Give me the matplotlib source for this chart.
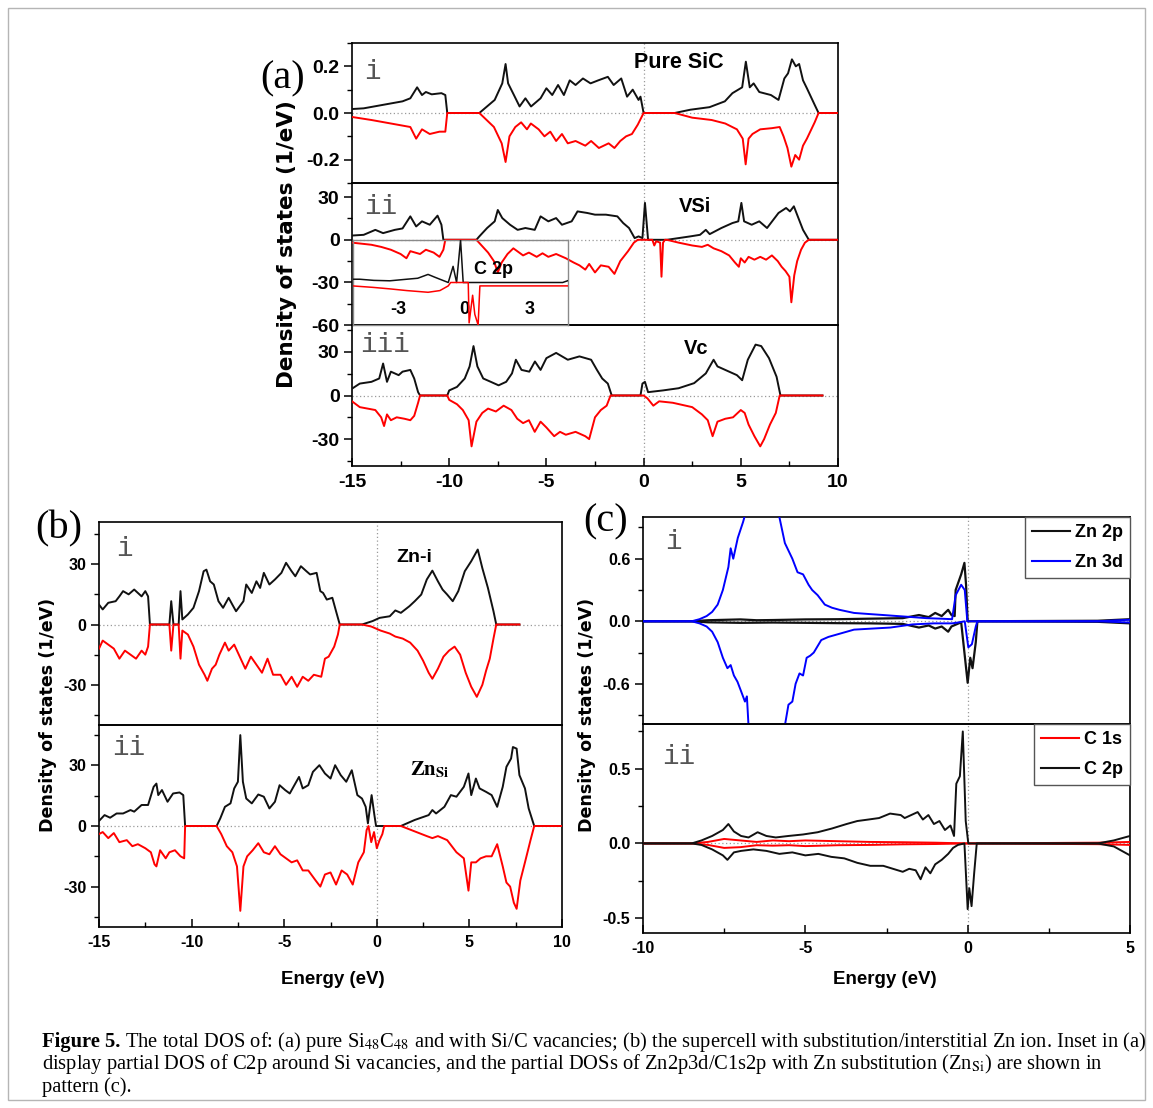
import matplotlib
matplotlib.use('Agg')
import matplotlib.pyplot as plt
from matplotlib.patches import Rectangle
from matplotlib.lines import Line2D

plt.rcParams['font.family'] = ['Liberation Sans', 'DejaVu Sans']
plt.rcParams['mathtext.fontset'] = 'stix'
plt.rcParams['axes.unicode_minus'] = False

WIDE = ['DejaVu Sans']
SERIF = ['Liberation Serif', 'DejaVu Serif']

# ---------------- data (energy eV, DOS) ----------------
# (a) i  pure SiC
a1_up = [(-15, 0.017), (-14.4, 0.02), (-13.4, 0.035), (-12.4, 0.05), (-12.0, 0.063), (-11.65, 0.11),
         (-11.4, 0.077), (-11.2, 0.09), (-10.9, 0.08), (-10.4, 0.085), (-10.2, 0.077), (-10.1, 0.0),
         (-8.45, 0.0), (-7.66, 0.056), (-7.27, 0.127), (-7.1, 0.21), (-6.97, 0.127), (-6.67, 0.077),
         (-6.38, 0.028), (-6.08, 0.063), (-5.79, 0.028), (-5.3, 0.063), (-5.0, 0.106), (-4.7, 0.077),
         (-4.4, 0.12), (-4.1, 0.077), (-3.8, 0.14), (-3.5, 0.12), (-3.12, 0.148), (-2.73, 0.127),
         (-2.33, 0.14), (-1.84, 0.155), (-1.54, 0.12), (-1.15, 0.148), (-0.85, 0.07), (-0.56, 0.1),
         (-0.26, 0.056), (-0.16, 0.07), (0.0, 0.0), (1.6, 0.0), (2.4, 0.014), (3.39, 0.025),
         (4.18, 0.05), (4.57, 0.085), (5.07, 0.11), (5.26, 0.22), (5.46, 0.11), (5.66, 0.127),
         (5.95, 0.09), (6.55, 0.077), (6.94, 0.056), (7.24, 0.148), (7.43, 0.17), (7.63, 0.23),
         (7.83, 0.2), (8.0, 0.21), (8.2, 0.14), (8.4, 0.106), (8.8, 0.035), (9.0, 0.0), (10.0, 0.0)]
a1_dn = [(-15, -0.017), (-14, -0.03), (-13, -0.045), (-12, -0.06), (-11.7, -0.11), (-11.4, -0.07),
         (-11, -0.09), (-10.5, -0.08), (-10.2, -0.08), (-10.1, 0.0), (-8.45, 0.0), (-7.7, -0.06),
         (-7.3, -0.13), (-7.1, -0.21), (-6.9, -0.1), (-6.6, -0.06), (-6.3, -0.04), (-6.0, -0.07),
         (-5.8, -0.045), (-5.4, -0.07), (-5.1, -0.1), (-4.8, -0.08), (-4.5, -0.12), (-4.2, -0.09),
         (-3.9, -0.13), (-3.5, -0.12), (-3.0, -0.14), (-2.7, -0.12), (-2.3, -0.15), (-1.8, -0.13),
         (-1.5, -0.15), (-1.2, -0.12), (-0.9, -0.1), (-0.6, -0.09), (-0.3, -0.05), (0.0, 0.0),
         (1.6, 0.0), (2.5, -0.02), (3.5, -0.03), (4.2, -0.045), (4.8, -0.07), (5.1, -0.11),
         (5.25, -0.22), (5.4, -0.11), (5.6, -0.09), (6.0, -0.07), (6.6, -0.065), (7.0, -0.06),
         (7.2, -0.1), (7.4, -0.15), (7.6, -0.23), (7.8, -0.18), (8.0, -0.2), (8.2, -0.14),
         (8.4, -0.11), (8.8, -0.04), (9.0, 0.0), (10.0, 0.0)]

# (a) ii  V_Si
a2_up = [(-15, 3), (-14.4, 3.5), (-13.8, 7), (-13.4, 4.7), (-12.8, 7), (-12.4, 8), (-12.0, 16.5),
         (-11.7, 9.4), (-11.4, 13), (-11.0, 10.6), (-10.6, 17), (-10.4, 10.6), (-10.3, 0), (-8.6, 0),
         (-8.45, 2.4), (-8.05, 8.3), (-7.66, 13), (-7.5, 21), (-7.27, 15.3), (-6.87, 10.6), (-6.48, 7),
         (-6.08, 8.3), (-5.6, 7), (-5.3, 16.5), (-4.9, 13), (-4.5, 15.3), (-4.2, 10.6), (-3.7, 13),
         (-3.4, 20), (-2.9, 18.9), (-2.5, 17.7), (-1.94, 17.7), (-1.35, 16.5), (-1.05, 11.8),
         (-0.75, 8.3), (-0.46, 1.2), (-0.26, 2.4), (-0.06, 1.2), (0.07, 26), (0.23, 0), (1.2, 0),
         (1.8, 1.2), (2.4, 2.4), (2.9, 3.5), (3.2, 7), (3.4, 4), (4.0, 8.3), (4.57, 11.8), (4.87, 13),
         (5.03, 26), (5.17, 13), (5.56, 10.6), (5.95, 13), (6.35, 8.3), (6.94, 18.9), (7.33, 22.4),
         (7.53, 20), (7.73, 23.6), (7.93, 16.5), (8.2, 7), (8.5, 0), (10, 0)]
a2_dn = [(-15, -2), (-14, -3.5), (-13.5, -5), (-13, -7), (-12.5, -10), (-12.2, -13), (-12, -8),
         (-11.5, -10), (-11.2, -7), (-10.8, -9), (-10.5, -12), (-10.3, -7), (-10.2, 0), (-8.6, 0),
         (-8.4, -3), (-8.0, -9), (-7.7, -15), (-7.5, -23), (-7.3, -16), (-7.0, -10), (-6.7, -6),
         (-6.5, -8), (-6.2, -11), (-5.9, -9), (-5.5, -12), (-5.2, -9.5), (-4.9, -12), (-4.5, -10),
         (-4.0, -13), (-3.6, -16), (-3.3, -18), (-3.0, -21), (-2.8, -17), (-2.5, -23), (-2.2, -18),
         (-1.8, -19), (-1.5, -24), (-1.2, -15), (-0.8, -8), (-0.5, -2), (-0.3, 0), (0.45, 0),
         (0.55, -4), (0.65, -1), (0.85, -2), (0.92, -26), (1.0, -2), (1.1, 0), (1.2, 0), (1.8, -2),
         (2.5, -4), (3.0, -5), (3.3, -3.5), (3.6, -6), (4.0, -8), (4.4, -11), (4.7, -16), (4.9, -19),
         (5.0, -13), (5.2, -16), (5.4, -12), (5.7, -14), (6.0, -12), (6.3, -14), (6.6, -11),
         (6.9, -15), (7.1, -19), (7.3, -22), (7.5, -26), (7.6, -44), (7.75, -25), (7.9, -15),
         (8.1, -7), (8.3, -2), (8.5, 0), (10, 0)]
# inset: C 2p around V_Si (arbitrary units)
ins_up = [(-5.07, 0.077), (-4.74, 0.077), (-4.1, 0.05), (-3.37, 0.04), (-2.6, 0.077), (-2.1, 0.1),
          (-1.63, 0.19), (-1.3, 0.12), (-1.09, 0.077), (-0.71, 0.0), (-0.49, 0.38), (-0.33, 0.0),
          (-0.15, 1.0), (-0.03, 0.0), (4.5, 0.0), (4.72, 0.04)]
ins_dn = [(-5.07, -0.08), (-4.13, -0.115), (-3.37, -0.15), (-2.6, -0.19), (-1.63, -0.23),
          (-1.09, -0.19), (-0.71, -0.08), (-0.6, 0.0), (0.2, 0.0), (0.24, -0.95), (0.4, -0.3),
          (0.5, -0.75), (0.65, -1.0), (0.73, -0.08), (4.72, -0.08)]

# (a) iii  V_C
a3_up = [(-15, 4.7), (-14.6, 8.2), (-14, 9.4), (-13.6, 11.7), (-13.4, 22), (-13.2, 9.4), (-13.0, 16.4),
         (-12.6, 14), (-12.4, 16.4), (-12.0, 17.6), (-11.8, 11.7), (-11.6, 2.3), (-11.5, 0), (-10.1, 0),
         (-10.0, 3.5), (-9.6, 5.9), (-9.2, 11.7), (-8.95, 20), (-8.75, 34), (-8.55, 20), (-8.25, 11.7),
         (-7.86, 9.4), (-7.46, 7), (-7.07, 9.4), (-6.77, 15.2), (-6.57, 24.6), (-6.28, 17.6),
         (-5.88, 16.4), (-5.59, 23.4), (-5.3, 17.6), (-5.0, 25.7), (-4.5, 29.3), (-3.9, 24.6),
         (-3.3, 26.9), (-2.7, 24.6), (-2.4, 17.6), (-2.13, 11.7), (-1.84, 8.2), (-1.64, 0),
         (-0.16, 0), (-0.06, 8.2), (0.07, 9.4), (0.23, 2.3), (1.0, 3.5), (1.8, 5.0), (2.6, 8.5),
         (3.2, 15.2), (3.6, 24.6), (3.8, 20), (4.4, 16.4), (4.8, 14), (5.07, 10.5), (5.36, 24.6),
         (5.76, 35), (6.05, 34), (6.45, 25.7), (6.84, 12.9), (7.04, 0), (9.2, 0)]
a3_dn = [(-15, -4), (-14.6, -8), (-14.2, -9), (-13.8, -10), (-13.5, -15), (-13.35, -21), (-13.2, -13),
         (-13.0, -17), (-12.7, -15), (-12.3, -16), (-12.0, -17), (-11.8, -14), (-11.6, -5), (-11.5, 0),
         (-10.1, 0), (-10.0, -3), (-9.6, -6), (-9.3, -10), (-9.0, -17), (-8.85, -35), (-8.6, -18),
         (-8.3, -12), (-8.0, -9), (-7.6, -11), (-7.2, -7), (-6.8, -10), (-6.5, -16), (-6.2, -19),
         (-5.9, -17), (-5.6, -25), (-5.3, -18), (-5.0, -22), (-4.6, -28), (-4.3, -25), (-4.0, -27),
         (-3.5, -25), (-3.0, -28), (-2.8, -30), (-2.5, -15), (-2.2, -10), (-1.9, -7), (-1.7, 0),
         (0.0, 0), (0.2, -2), (0.5, -7), (0.8, -4), (1.5, -5), (2.5, -8), (3.0, -13), (3.3, -17),
         (3.55, -28), (3.8, -18), (4.2, -16), (4.6, -15), (5.0, -10), (5.2, -12), (5.4, -20),
         (5.7, -28), (6.0, -35), (6.2, -30), (6.5, -20), (6.8, -12), (7.0, 0), (9.2, 0)]

# (b) i  Zn-i
b1_up = [(-15, 9.9), (-14.8, 7.5), (-14.5, 10.8), (-14.1, 11.6), (-13.9, 14), (-13.7, 16.6), (-13.4, 15),
         (-13.1, 17.4), (-12.7, 14), (-12.5, 16.6), (-12.35, 14), (-12.25, 0), (-11.2, 0), (-11.1, 11.6),
         (-10.98, 0), (-10.7, 0), (-10.6, 16.6), (-10.5, 2.5), (-10.2, 5), (-9.9, 8.3), (-9.6, 16.6),
         (-9.35, 26.5), (-9.2, 27.3), (-9.0, 21.5), (-8.8, 19.9), (-8.55, 11.6), (-8.3, 8.3),
         (-8.0, 13.3), (-7.8, 9.9), (-7.6, 6.6), (-7.2, 11.6), (-7.05, 19.9), (-6.75, 15.7),
         (-6.5, 21.5), (-6.3, 18.2), (-6.1, 25.7), (-5.8, 19.9), (-5.5, 22.4), (-5.15, 25.7),
         (-4.9, 30.7), (-4.6, 26.5), (-4.4, 24), (-4.1, 29), (-3.8, 26.5), (-3.6, 24.9), (-3.25, 25.7),
         (-3.05, 16.6), (-2.9, 15.7), (-2.7, 12.4), (-2.4, 13.3), (-2.2, 6.6), (-2.0, 0), (-0.8, 0),
         (-0.23, 1.7), (0.15, 3.3), (0.7, 4.1), (1.0, 7), (1.3, 5.8), (1.76, 9.1), (2.05, 11.6),
         (2.4, 14.9), (2.7, 22.4), (3.0, 26.8), (3.3, 21.5), (3.55, 17.4), (3.8, 14.9), (4.1, 11.6),
         (4.4, 16.6), (4.75, 26.5), (5.1, 31.5), (5.45, 37.3), (5.7, 28), (6.0, 18.2), (6.3, 6.6),
         (6.45, 0), (7.7, 0)]
b1_dn = [(-15, -12), (-14.8, -8), (-14.5, -10), (-14.2, -12), (-13.9, -17), (-13.6, -13), (-13.3, -15),
         (-13.0, -17), (-12.7, -13), (-12.5, -15), (-12.35, -11), (-12.25, 0), (-11.2, 0), (-11.1, -13),
         (-10.98, 0), (-10.7, 0), (-10.6, -17), (-10.5, -3), (-10.2, -5), (-9.9, -11), (-9.6, -20),
         (-9.3, -25), (-9.15, -28), (-8.9, -22), (-8.7, -20), (-8.5, -15), (-8.2, -9), (-8.0, -13),
         (-7.7, -10), (-7.4, -16), (-7.1, -22), (-6.8, -16), (-6.5, -20), (-6.2, -24), (-5.9, -17),
         (-5.6, -25), (-5.2, -25), (-4.9, -30), (-4.6, -26), (-4.3, -31), (-4.0, -26), (-3.7, -28),
         (-3.4, -25), (-3.0, -26), (-2.8, -17), (-2.6, -16), (-2.3, -11), (-2.1, -5), (-2.0, 0),
         (-0.8, 0), (-0.3, -1), (0.2, -3), (0.7, -4.5), (1.0, -6), (1.4, -7), (1.8, -9), (2.2, -13),
         (2.5, -18), (2.8, -24), (3.0, -27), (3.3, -22), (3.6, -16), (3.9, -13), (4.2, -11), (4.5, -15),
         (4.8, -24), (5.1, -31), (5.4, -36), (5.7, -30), (5.9, -23), (6.1, -17), (6.3, -7), (6.45, 0),
         (7.7, 0)]

# (b) ii  Zn_Si
b2_up = [(-15, 2.5), (-14.7, 5.4), (-14.4, 4.1), (-14.05, 6.2), (-13.7, 6.2), (-13.3, 7.9), (-13.1, 7.1),
         (-12.7, 10.4), (-12.35, 10.4), (-12.05, 19.4), (-11.9, 21), (-11.8, 15.3), (-11.6, 17.8),
         (-11.3, 12), (-11.0, 16.1), (-10.65, 16.6), (-10.45, 15.3), (-10.35, 0), (-8.65, 0),
         (-8.45, 3.8), (-8.2, 9.5), (-7.9, 11.2), (-7.7, 18.6), (-7.5, 21.9), (-7.37, 45), (-7.23, 21.9),
         (-7.05, 13.6), (-6.75, 11.2), (-6.4, 15.6), (-6.1, 14.5), (-5.8, 8.7), (-5.5, 12), (-5.25, 20.2),
         (-4.95, 17.8), (-4.7, 16.1), (-4.5, 19.4), (-4.2, 24.3), (-4.0, 18.6), (-3.7, 20.2),
         (-3.45, 26.8), (-3.1, 30.1), (-2.8, 26), (-2.5, 23.5), (-2.25, 30.1), (-1.95, 25.2),
         (-1.65, 21.9), (-1.35, 27.6), (-1.05, 15.3), (-0.8, 13.6), (-0.6, 9.5), (-0.48, 1.3),
         (-0.28, 15.3), (-0.13, 5.4), (-0.04, 0), (1.3, 0), (2.05, 3), (2.8, 5.4), (3.0, 7.9), (3.2, 6.2),
         (3.65, 9.5), (4.0, 15.3), (4.3, 14.5), (4.7, 19.4), (4.95, 26), (5.1, 15.3), (5.35, 23.5),
         (5.55, 18.6), (5.9, 16.9), (6.2, 15.3), (6.5, 9.5), (6.8, 19.4), (7.0, 29.3), (7.25, 33.4),
         (7.35, 39.1), (7.55, 38.3), (7.7, 25.2), (8.0, 18.6), (8.2, 8.7), (8.5, 0), (10, 0)]
b2_dn = [(-15, -4), (-14.8, -3), (-14.5, -6), (-14.2, -3.5), (-13.9, -8), (-13.5, -7), (-13.2, -10),
         (-12.9, -9), (-12.5, -11), (-12.2, -13), (-12.0, -19), (-11.9, -20), (-11.7, -12), (-11.4, -16),
         (-11.2, -13), (-10.9, -12), (-10.6, -15), (-10.4, -16), (-10.35, 0), (-8.65, 0), (-8.4, -4),
         (-8.1, -10), (-7.8, -13), (-7.55, -20), (-7.37, -42), (-7.2, -20), (-7.0, -15), (-6.7, -12),
         (-6.4, -8.5), (-6.1, -13), (-5.8, -14), (-5.5, -10), (-5.2, -14), (-4.9, -16), (-4.6, -18),
         (-4.3, -17), (-4.0, -22), (-3.7, -22), (-3.3, -27), (-3.05, -30), (-2.8, -24), (-2.5, -23),
         (-2.2, -29), (-1.9, -22), (-1.6, -24), (-1.3, -29), (-1.0, -18), (-0.7, -13), (-0.55, -2),
         (-0.45, 0), (-0.3, -8), (-0.15, -3), (0.0, -11), (0.15, -7), (0.3, -4), (0.4, 0), (1.3, 0),
         (2.0, -2.5), (2.7, -5), (3.0, -6), (3.3, -5), (3.8, -7), (4.3, -13), (4.7, -16), (4.95, -32),
         (5.1, -18), (5.35, -18), (5.6, -16), (5.9, -15), (6.2, -15), (6.5, -9), (6.8, -20), (7.0, -28),
         (7.2, -30), (7.4, -38), (7.55, -41), (7.75, -27), (8.0, -18), (8.3, -7), (8.5, 0), (10, 0)]

# (c) i  Zn 2p / Zn 3d
zn3d_up = [(-10, 0), (-8.5, 0), (-8.26, 0.02), (-8.04, 0.05), (-7.87, 0.09), (-7.7, 0.16), (-7.54, 0.3),
           (-7.37, 0.52), (-7.3, 0.7), (-7.22, 0.6), (-7.08, 0.8), (-6.92, 0.95), (-6.6, 1.3),
           (-6.2, 1.5), (-5.9, 1.2), (-5.8, 1.0), (-5.63, 0.75), (-5.4, 0.6), (-5.24, 0.47), (-5.07, 0.45),
           (-4.9, 0.35), (-4.79, 0.3), (-4.62, 0.25), (-4.4, 0.16), (-4.18, 0.13), (-3.95, 0.11),
           (-3.5, 0.08), (-3.06, 0.07), (-2.6, 0.06), (-2.16, 0.05), (-1.7, 0.04), (-1.27, 0.03),
           (-0.82, 0.025), (-0.48, 0.02), (-0.37, 0.25), (-0.2, 0.35), (-0.09, 0.3), (-0.01, 0.0),
           (4.0, 0.0), (5.0, 0.015)]
zn3d_dn = [(-10, 0), (-8.5, 0), (-8.26, -0.02), (-8.04, -0.05), (-7.87, -0.1), (-7.7, -0.2),
           (-7.54, -0.35), (-7.4, -0.45), (-7.3, -0.42), (-7.2, -0.52), (-7.09, -0.58), (-6.98, -0.67),
           (-6.86, -0.77), (-6.8, -0.72), (-6.75, -1.0), (-6.4, -1.4), (-6.0, -1.5), (-5.7, -1.2),
           (-5.63, -1.0), (-5.52, -0.8), (-5.4, -0.77), (-5.3, -0.6), (-5.18, -0.5), (-5.07, -0.52),
           (-4.96, -0.35), (-4.85, -0.33), (-4.74, -0.3), (-4.51, -0.18), (-4.29, -0.15), (-3.95, -0.12),
           (-3.5, -0.08), (-2.94, -0.07), (-2.38, -0.06), (-1.7, -0.03), (-1.04, -0.02), (-0.48, -0.02),
           (-0.26, -0.01), (-0.09, 0.0), (0.02, -0.25), (0.13, -0.22), (0.25, -0.05), (0.3, 0.0),
           (4.0, 0.0), (5.0, -0.012)]
zn2p_up = [(-10, 0), (-8.5, 0), (-8.0, 0.01), (-7.0, 0.018), (-6.5, 0.01), (-6.0, 0.012), (-5.0, 0.018),
           (-4.0, 0.02), (-3.0, 0.025), (-2.0, 0.03), (-1.5, 0.06), (-1.2, 0.04), (-1.0, 0.08),
           (-0.8, 0.05), (-0.6, 0.11), (-0.5, 0.06), (-0.4, 0.05), (-0.37, 0.3), (-0.2, 0.45),
           (-0.1, 0.56), (-0.05, 0.35), (0.0, 0.0), (4.0, 0.005), (5.0, 0.02)]
zn2p_dn = [(-10, 0), (-8.5, 0), (-8.0, -0.01), (-7.0, -0.015), (-6.0, -0.012), (-5.0, -0.015),
           (-4.0, -0.018), (-3.0, -0.02), (-2.0, -0.025), (-1.5, -0.06), (-1.2, -0.04), (-1.0, -0.07),
           (-0.8, -0.05), (-0.6, -0.1), (-0.5, -0.05), (-0.2, -0.01), (0.0, -0.59), (0.08, -0.35),
           (0.15, -0.45), (0.25, -0.2), (0.3, 0.0), (4.0, -0.005), (5.0, -0.02)]

# (c) ii  C 1s / C 2p
c1s_up = [(-10, 0), (-8.5, 0), (-8.0, 0.01), (-7.5, 0.03), (-7.0, 0.02), (-6.5, 0.01), (-6.0, 0.02),
          (-5.5, 0.015), (-5.0, 0.02), (-4.0, 0.015), (-3.0, 0.01), (-2.0, 0.008), (-1.0, 0.005),
          (0.0, 0.0), (4.0, 0.005), (5.0, 0.01)]
c1s_dn = [(-10, 0), (-8.5, 0), (-8.0, -0.01), (-7.5, -0.03), (-7.0, -0.025), (-6.5, -0.012),
          (-6.0, -0.015), (-5.5, -0.012), (-5.0, -0.018), (-4.0, -0.012), (-3.0, -0.01), (-2.0, -0.006),
          (-1.0, -0.004), (0.0, 0.0), (4.0, -0.005), (5.0, -0.01)]
c2p_up = [(-10, 0), (-8.5, 0), (-8.2, 0.02), (-7.87, 0.05), (-7.54, 0.09), (-7.37, 0.13), (-7.2, 0.08),
          (-6.98, 0.05), (-6.75, 0.04), (-6.47, 0.075), (-6.2, 0.05), (-5.91, 0.04), (-5.52, 0.05),
          (-5.07, 0.06), (-4.62, 0.075), (-4.18, 0.1), (-3.73, 0.13), (-3.4, 0.15), (-3.06, 0.16),
          (-2.73, 0.17), (-2.39, 0.2), (-2.06, 0.19), (-1.94, 0.17), (-1.54, 0.21), (-1.38, 0.16),
          (-1.21, 0.19), (-1.04, 0.13), (-0.87, 0.15), (-0.7, 0.09), (-0.53, 0.12), (-0.42, 0.05),
          (-0.35, 0.4), (-0.24, 0.45), (-0.15, 0.75), (-0.06, 0.15), (0.02, 0.0), (4.0, 0.0),
          (4.5, 0.02), (5.0, 0.05)]
c2p_dn = [(-10, 0), (-8.5, 0), (-8.2, -0.01), (-7.87, -0.04), (-7.54, -0.08), (-7.4, -0.11), (-7.2, -0.06),
          (-6.98, -0.05), (-6.6, -0.04), (-6.2, -0.05), (-5.8, -0.07), (-5.4, -0.06), (-5.0, -0.08),
          (-4.6, -0.07), (-4.2, -0.09), (-3.8, -0.1), (-3.4, -0.13), (-3.0, -0.15), (-2.6, -0.15),
          (-2.3, -0.17), (-2.0, -0.19), (-1.8, -0.17), (-1.6, -0.18), (-1.45, -0.24), (-1.3, -0.16),
          (-1.15, -0.2), (-1.0, -0.14), (-0.8, -0.11), (-0.6, -0.07), (-0.45, -0.03), (-0.3, -0.01),
          (-0.1, 0.0), (0.0, -0.44), (0.05, -0.3), (0.12, -0.42), (0.2, -0.2), (0.28, 0.0), (4.0, 0.0),
          (4.5, -0.02), (5.0, -0.08)]

x_ticks_ab = [-15, -10, -5, 0, 5, 10]
x_ticks_c = [-10, -5, 0, 5]
inset_ticks = [-3, 0, 3]
legend_c1 = ['Zn 2p', 'Zn 3d']
legend_c2 = ['C 1s', 'C 2p']

# ---------------- layout helpers ----------------
W, H = 1153, 1108
fig = plt.figure(figsize=(W / 100, H / 100), dpi=100)


def rect(x0, y0, x1, y1):
    return [x0 / W, 1 - y1 / H, (x1 - x0) / W, (y1 - y0) / H]


def xy(px, py):
    return px / W, 1 - py / H


def curve(ax, pts, color, lw=1.4, z=3):
    ax.plot([p[0] for p in pts], [p[1] for p in pts], color=color, lw=lw, zorder=z,
            solid_joinstyle='round')


def style(ax, xlim, ylim, yticks, yminor, xticks, xminor, bottom, ysize, xsize, fmt):
    ax.set_xlim(xlim)
    ax.set_ylim(ylim)
    ax.set_yticks(yticks)
    ax.set_yticklabels([fmt.format(v) for v in yticks])
    ax.set_yticks(yminor, minor=True)
    ax.set_xticks(xticks)
    ax.set_xticks(xminor, minor=True)
    ax.tick_params(axis='y', which='major', direction='out', length=6, width=1.1,
                   labelsize=ysize, pad=3)
    ax.tick_params(axis='y', which='minor', direction='out', length=3.5, width=1.0)
    ax.tick_params(axis='x', which='major', direction='in', length=6, width=1.1,
                   labelsize=xsize, pad=6, bottom=bottom, labelbottom=bottom)
    ax.tick_params(axis='x', which='minor', direction='in', length=3.5, width=1.0, bottom=bottom)
    for lab in ax.get_xticklabels() + ax.get_yticklabels():
        lab.set_fontweight('bold')
    for s in ax.spines.values():
        s.set_linewidth(1.2)
    ax.axhline(0, color='#9a9a9a', ls=(0, (1, 2)), lw=0.9, zorder=1)
    ax.axvline(0, color='#9a9a9a', ls=(0, (1, 2)), lw=0.9, zorder=1)
    ax.set_facecolor('none')


def roman(s, px, py):
    fig.text(*xy(px, py), s, fontsize=20, color='#555555', family=['Liberation Mono', 'DejaVu Sans Mono'],
             ha='left', va='center')


def legend(ax, colors, labels):
    lg = ax.legend(handles=[Line2D([], [], color=c, lw=1.5) for c in colors], labels=labels,
                   loc='upper right', borderaxespad=0, fancybox=False, edgecolor='#555555',
                   framealpha=1, handlelength=2.1, handletextpad=0.25, borderpad=0.4,
                   labelspacing=0.7, prop={'weight': 'bold', 'size': 13})
    lg.get_frame().set_linewidth(1.0)


# outer border
fig.add_artist(Rectangle((8 / W, 1 - 1100 / H), 1137 / W, 1092 / H, transform=fig.transFigure,
                         fill=False, edgecolor='#b5b5b5', lw=1.0))

RED = '#ff0000'
BLUE = '#0000ff'
BLK = '#111111'

# ---------------- panel (a) ----------------
xa = (-15, 10)
xminor_ab = [-12.5, -7.5, -2.5, 2.5, 7.5]
ax1 = fig.add_axes(rect(352, 43, 838, 183))
curve(ax1, a1_up, BLK)
curve(ax1, a1_dn, RED)
style(ax1, xa, (-0.3, 0.3), [-0.2, 0.0, 0.2], [-0.3, -0.1, 0.1, 0.3], x_ticks_ab, xminor_ab,
      False, 14, 14, '{:.1f}')

ax2 = fig.add_axes(rect(352, 183, 838, 325))
curve(ax2, a2_up, BLK)
curve(ax2, a2_dn, RED)
style(ax2, xa, (-60, 40), [-60, -30, 0, 30], [-45, -15, 15], x_ticks_ab, xminor_ab,
      False, 14, 14, '{:.0f}')

ax3 = fig.add_axes(rect(352, 325, 838, 466))
curve(ax3, a3_up, BLK)
curve(ax3, a3_dn, RED)
style(ax3, xa, (-48.5, 48.5), [-30, 0, 30], [-45, -15, 15, 45], x_ticks_ab, xminor_ab,
      True, 14, 14, '{:.0f}')

# inset in (a) ii
axi = fig.add_axes(rect(352.5, 240, 567.5, 325))
axi.set_facecolor('none')
curve(axi, ins_up, BLK, lw=1.1)
curve(axi, ins_dn, RED, lw=1.1)
axi.set_xlim(-5.07, 4.72)
axi.set_ylim(-1.0, 1.0)
axi.set_xticks(inset_ticks)
axi.set_xticklabels([str(v) for v in inset_ticks])
axi.set_yticks([])
axi.tick_params(axis='x', direction='in', length=0, pad=-17, labelsize=13)
for lab in axi.get_xticklabels():
    lab.set_fontweight('bold')
for s in axi.spines.values():
    s.set_color('#8a8a8a')
    s.set_linewidth(1.0)
axi.text(0.565, 0.65, 'C 2p', transform=axi.transAxes, fontsize=13, fontweight='bold',
         ha='left', va='center')

fig.text(*xy(679, 63), 'Pure SiC', fontsize=15.5, fontweight='bold', ha='center', va='center')
fig.text(*xy(695, 206), 'VSi', fontsize=14.5, fontweight='bold', ha='center', va='center')
fig.text(*xy(696, 348), 'Vc', fontsize=14.5, fontweight='bold', ha='center', va='center')
roman('i', 364, 72)
roman('ii', 364, 207)
roman('iii', 360, 345)
fig.text(*xy(260, 79), '(a)', fontsize=29, family=SERIF, ha='left', va='center')
fig.text(*xy(287, 244), 'Density of states (1/eV)', fontsize=15.5, fontweight='bold', family=WIDE,
         rotation=90, ha='center', va='center')

# ---------------- panel (b) ----------------
ab1 = fig.add_axes(rect(99, 522, 562, 725))
curve(ab1, b1_up, BLK)
curve(ab1, b1_dn, RED)
style(ab1, xa, (-50, 51), [-30, 0, 30], [-45, -15, 15, 45], x_ticks_ab, xminor_ab,
      False, 11.5, 11.5, '{:.0f}')
ab2 = fig.add_axes(rect(99, 725, 562, 927))
curve(ab2, b2_up, BLK)
curve(ab2, b2_dn, RED)
style(ab2, xa, (-50, 50), [-30, 0, 30], [-45, -15, 15, 45], x_ticks_ab, xminor_ab,
      True, 11.5, 11.5, '{:.0f}')
fig.text(*xy(414, 558), 'Zn-i', fontsize=14, fontweight='bold', ha='center', va='center')
fig.text(*xy(430, 770), r'$\mathbf{Zn}_{\mathbf{Si}}$', fontsize=15, ha='center', va='center')
roman('i', 116, 549)
roman('ii', 112, 748)
fig.text(*xy(35, 529), '(b)', fontsize=29, family=SERIF, ha='left', va='center')
fig.text(*xy(48, 715), 'Density of states (1/eV)', fontsize=12.6, fontweight='bold', family=WIDE,
         rotation=90, ha='center', va='center')
fig.text(*xy(333, 980), 'Energy (eV)', fontsize=13.5, fontweight='bold', ha='center', va='center')

# ---------------- panel (c) ----------------
xc = (-10, 5)
xminor_c = [-7.5, -2.5, 2.5]
ac1 = fig.add_axes(rect(643, 517, 1130, 724))
curve(ac1, zn2p_up, BLK, lw=1.6)
curve(ac1, zn2p_dn, BLK, lw=1.6)
curve(ac1, zn3d_up, BLUE)
curve(ac1, zn3d_dn, BLUE)
style(ac1, xc, (-0.985, 1.0), [-0.6, 0.0, 0.6], [-0.9, -0.3, 0.3, 0.9], x_ticks_c, xminor_c,
      False, 11.5, 11.5, '{:.1f}')
legend(ac1, [BLK, BLUE], legend_c1)

ac2 = fig.add_axes(rect(643, 724, 1130, 933))
curve(ac2, c1s_up, RED)
curve(ac2, c1s_dn, RED)
curve(ac2, c2p_up, BLK)
curve(ac2, c2p_dn, BLK)
style(ac2, xc, (-0.6, 0.8), [-0.5, 0.0, 0.5], [-0.25, 0.25, 0.75], x_ticks_c, xminor_c,
      True, 11.5, 11.5, '{:.1f}')
legend(ac2, [RED, BLK], legend_c2)
roman('i', 665, 542)
roman('ii', 662, 757)
fig.text(*xy(583, 522), '(c)', fontsize=29, family=SERIF, ha='left', va='center')
fig.text(*xy(587, 715), 'Density of states (1/eV)', fontsize=12.6, fontweight='bold', family=WIDE,
         rotation=90, ha='center', va='center')
fig.text(*xy(885, 980), 'Energy (eV)', fontsize=13.5, fontweight='bold', ha='center', va='center')

# ---------------- caption ----------------
cap_fs = 14.8
t0 = fig.text(*xy(42, 1042), 'Figure 5.', fontsize=cap_fs, fontweight='bold', family=SERIF,
              ha='left', va='center')
fig.add_artist(plt.Annotation(
    r' The total DOS of: (a) pure Si$_{48}$C$_{48}$ and with Si/C vacancies; (b) the supercell '
    r'with substitution/interstitial Zn ion. Inset in (a)',
    xy=(1, 0.5), xycoords=t0, va='center', ha='left', fontsize=cap_fs, family=SERIF,
    annotation_clip=False))
fig.text(*xy(42, 1064), r'display partial DOS of C2p around Si vacancies, and the partial DOSs of '
                        r'Zn2p3d/C1s2p with Zn substitution (Zn$_{\mathrm{Si}}$) are shown in',
         fontsize=cap_fs, family=SERIF, ha='left', va='center')
fig.text(*xy(42, 1087), 'pattern (c).', fontsize=cap_fs, family=SERIF, ha='left', va='center')

fig.savefig('out.png', dpi=100)
